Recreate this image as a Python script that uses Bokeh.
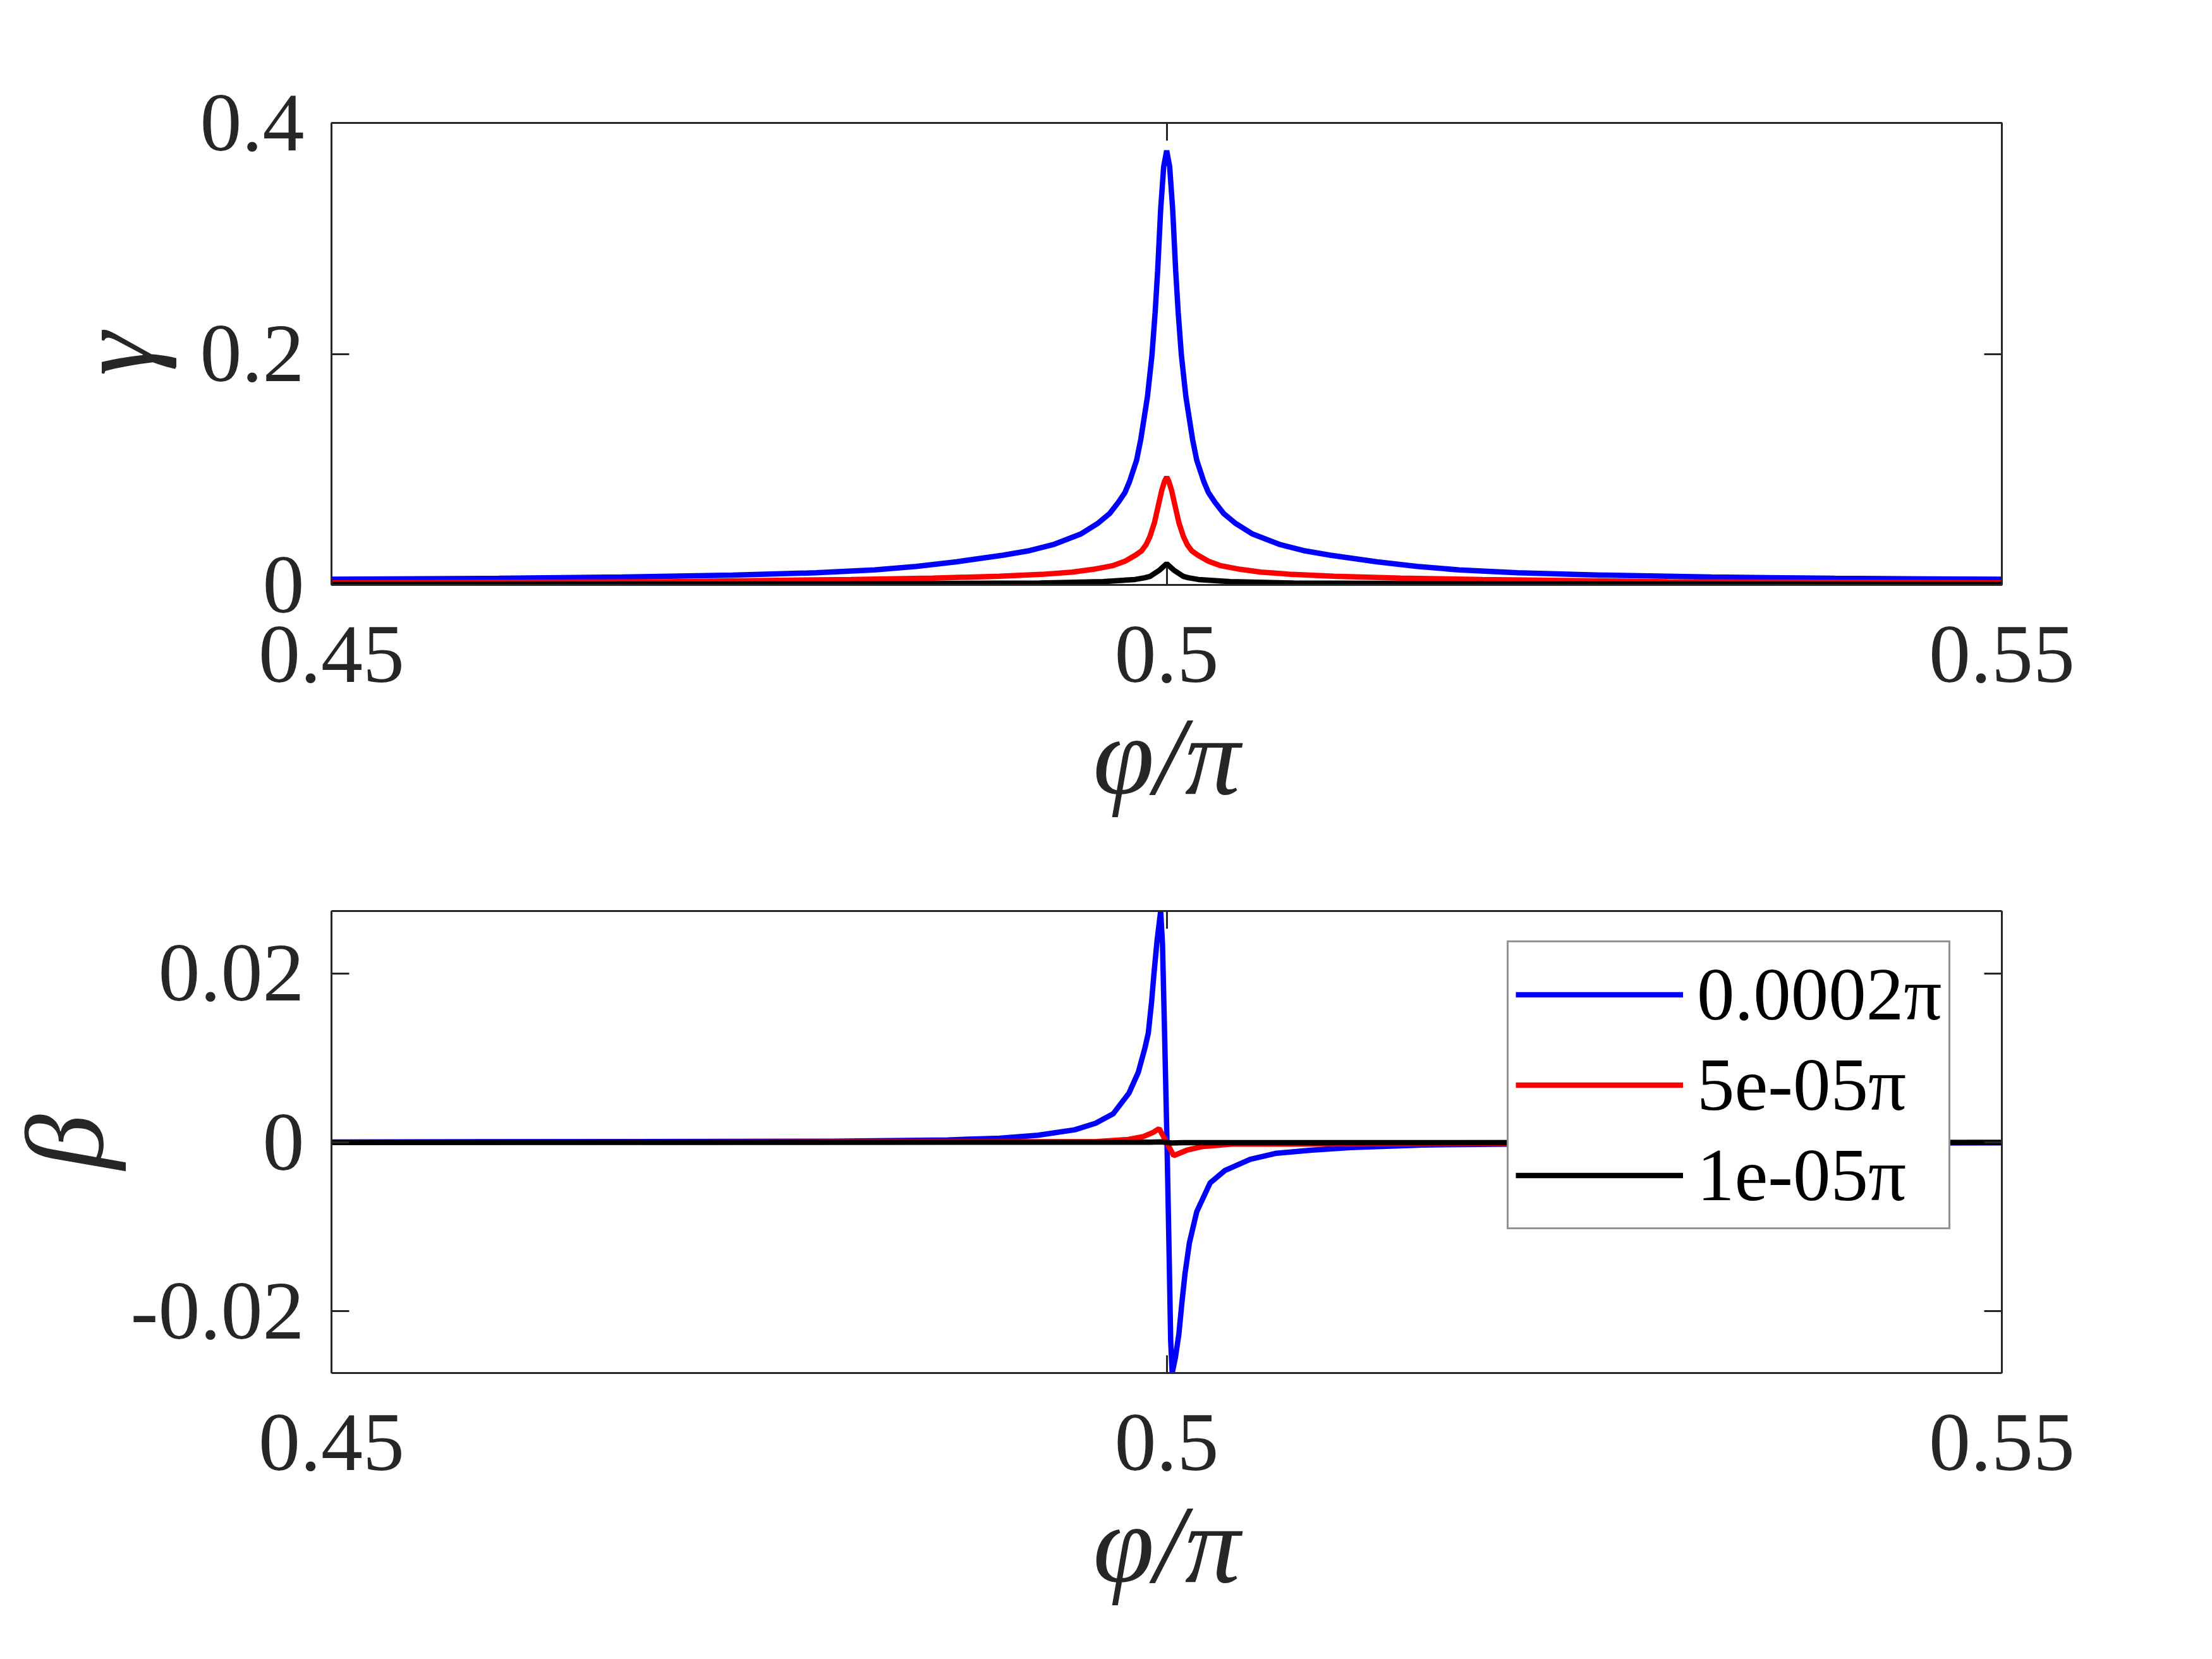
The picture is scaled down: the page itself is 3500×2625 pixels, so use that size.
from bokeh.plotting import figure
from bokeh.models import Range1d, FixedTicker, LinearAxis, Legend, LegendItem
from bokeh.layouts import column
from bokeh.embed import file_html
from bokeh.resources import INLINE

# ---------------- data ----------------
x_ticks = [0.45, 0.5, 0.55]
x_tick_labels = ["0.45", "0.5", "0.55"]
gamma_ticks = [0.0, 0.2, 0.4]
gamma_tick_labels = ["0", "0.2", "0.4"]
beta_ticks = [-0.02, 0.0, 0.02]
beta_tick_labels = ["-0.02", "0", "0.02"]

series_names = ["0.0002\u03c0", "5e-05\u03c0", "1e-05\u03c0"]
series_colors = ["#0000ff", "#ff0000", "#000000"]

# gamma, 0.0002 pi
phi_gamma_blue = [0.45, 0.46, 0.4674, 0.474, 0.479, 0.4825, 0.485, 0.4874, 0.4902, 0.4918,
                  0.49321, 0.49485, 0.49586, 0.4966, 0.4971, 0.4975, 0.49778, 0.4982, 0.49845,
                  0.49885, 0.49912, 0.49931, 0.49946, 0.49964, 0.49982,
                  0.5,
                  0.50018, 0.50036, 0.50054, 0.50069, 0.50088, 0.50115, 0.50155, 0.5018,
                  0.50222, 0.5025, 0.5029, 0.5034, 0.50414, 0.50515, 0.50679, 0.5082, 0.5098,
                  0.5126, 0.515, 0.5175, 0.521, 0.526, 0.5326, 0.54, 0.55]
gamma_blue = [0.0049, 0.0057, 0.0068, 0.0085, 0.0105, 0.0130, 0.0160, 0.0200, 0.0257, 0.0297,
              0.0349, 0.044, 0.0531, 0.0620, 0.0714, 0.0800, 0.0896, 0.108, 0.126,
              0.163, 0.199, 0.236, 0.272, 0.325, 0.362,
              0.376,
              0.362, 0.325, 0.272, 0.236, 0.199, 0.163, 0.126, 0.108,
              0.0896, 0.0800, 0.0714, 0.0620, 0.0531, 0.044, 0.0349, 0.0297, 0.0257,
              0.0200, 0.0160, 0.0130, 0.0105, 0.0085, 0.0068, 0.0057, 0.0049]

# gamma, 5e-05 pi
phi_gamma_red = [0.45, 0.47, 0.4811, 0.486, 0.49, 0.4925, 0.49435, 0.4956, 0.49675, 0.4975,
                 0.49813, 0.4985, 0.49877, 0.499, 0.49927, 0.49952, 0.4997, 0.49987,
                 0.5,
                 0.50013, 0.5003, 0.50048, 0.50073, 0.501, 0.50123, 0.5015, 0.50187, 0.5025,
                 0.50325, 0.5044, 0.50565, 0.5075, 0.51, 0.514, 0.5189, 0.53, 0.55]
gamma_red = [0.0018, 0.0028, 0.0047, 0.0059, 0.0075, 0.0091, 0.0111, 0.0135, 0.0166, 0.0205,
             0.0257, 0.0295, 0.0349, 0.0420, 0.0540, 0.0700, 0.0815, 0.0896,
             0.0933,
             0.0896, 0.0815, 0.0700, 0.0540, 0.0420, 0.0349, 0.0295, 0.0257, 0.0205,
             0.0166, 0.0135, 0.0111, 0.0091, 0.0075, 0.0059, 0.0047, 0.0028, 0.0018]

# gamma, 1e-05 pi
phi_gamma_black = [0.45, 0.481, 0.4924, 0.4962, 0.4981, 0.4987, 0.49902, 0.49958, 0.5, 0.50042,
                   0.50098, 0.5013, 0.5019, 0.5038, 0.5076, 0.519, 0.55]
gamma_black = [0.0004, 0.0009, 0.0016, 0.0029, 0.0047, 0.0062, 0.0075, 0.0129, 0.0184, 0.0129,
               0.0075, 0.0062, 0.0047, 0.0029, 0.0016, 0.0009, 0.0004]

# beta, 0.0002 pi
phi_beta_blue = [0.45, 0.48, 0.4869, 0.49, 0.4923, 0.4945, 0.49575, 0.4968, 0.49774, 0.4983,
                 0.4987, 0.4989, 0.4991, 0.49924, 0.49942, 0.49964, 0.49975, 0.49988, 0.50002,
                 0.50014, 0.50024, 0.50033, 0.50052, 0.50073, 0.50091, 0.5011, 0.50136, 0.5018,
                 0.5026, 0.5035, 0.505, 0.5065, 0.5086, 0.511, 0.5153, 0.525, 0.55]
beta_blue = [0.00005, 0.00015, 0.0003, 0.0005, 0.00085, 0.0015, 0.00228, 0.0034, 0.00583, 0.0083,
             0.0112, 0.01294, 0.0167, 0.0200, 0.0238, 0.0274, 0.0235, 0.0125, 0.0,
             -0.0125, -0.0235, -0.0273, -0.0255, -0.0227, -0.019, -0.0155, -0.0119, -0.0082,
             -0.0048, -0.0033, -0.002, -0.0013, -0.00092, -0.0006, -0.0003, -0.00012, -0.00005]

# beta, 5e-05 pi
phi_beta_red = [0.45, 0.4958, 0.4977, 0.4986, 0.4992, 0.49955, 0.5, 0.50042, 0.5012, 0.5021,
                0.5039, 0.55]
beta_red = [0.0, 0.0001, 0.00035, 0.0007, 0.0012, 0.00164, 0.0, -0.00156, -0.00092, -0.0005,
            -0.0002, 0.0]

# beta, 1e-05 pi
phi_beta_black = [0.45, 0.499, 0.4997, 0.5, 0.5003, 0.501, 0.55]
beta_black = [0.0, 0.00003, 0.00006, 0.0, -0.00006, -0.00003, 0.0]

x_label = "\u03c6/\u03c0"
gamma_label = "\u03b3"
beta_label = "\u03b2"

# ---------------- styling ----------------
FONT = "Liberation Serif"
AX = "#262626"
TICK_FS = "132px"
LABEL_FS = "175px"
LEGEND_FS = "119px"
LW = 8.5

TOTAL_W = 3484
FRAME_L = 524
FRAME_W = 2643
FRAME_H = 731
TOP_H = 1380
TOTAL_H = 2609


def style_axis(ax, ticks, labels, show):
    ax.ticker = FixedTicker(ticks=ticks)
    ax.axis_line_color = AX
    ax.axis_line_width = 3
    ax.major_tick_line_color = AX
    ax.major_tick_line_width = 3
    ax.major_tick_in = 28
    ax.major_tick_out = 0
    ax.minor_tick_line_color = None
    if show:
        ax.major_label_overrides = {t: l for t, l in zip(ticks, labels)}
        ax.major_label_text_font = FONT
        ax.major_label_text_font_size = TICK_FS
        ax.major_label_text_color = AX
        ax.axis_label_text_font = FONT
        ax.axis_label_text_font_size = LABEL_FS
        ax.axis_label_text_font_style = "italic"
        ax.axis_label_text_color = AX
    else:
        ax.major_label_overrides = {t: "" for t in ticks}
        ax.major_label_text_font_size = "1px"
        ax.major_label_standoff = 0


def make_fig(y_lo, y_hi, top, bottom):
    p = figure(output_backend="svg", toolbar_location=None,
               x_range=Range1d(0.45, 0.55), y_range=Range1d(y_lo, y_hi),
               frame_width=FRAME_W, frame_height=FRAME_H,
               min_border_left=FRAME_L, min_border_right=TOTAL_W - FRAME_L - FRAME_W,
               min_border_top=top, min_border_bottom=bottom,
               background_fill_color="white", border_fill_color="white",
               outline_line_color=None)
    p.xgrid.visible = False
    p.ygrid.visible = False
    p.add_layout(LinearAxis(), "above")
    p.add_layout(LinearAxis(), "right")
    return p


# top panel: gamma
top1 = 194
p1 = make_fig(0.0, 0.4, top1, TOP_H - top1 - FRAME_H)
style_axis(p1.below[0], x_ticks, x_tick_labels, True)
style_axis(p1.above[0], x_ticks, x_tick_labels, False)
style_axis(p1.left[0], gamma_ticks, gamma_tick_labels, True)
style_axis(p1.right[0], gamma_ticks, gamma_tick_labels, False)
p1.below[0].axis_label = x_label
p1.left[0].axis_label = gamma_label
p1.below[0].major_label_standoff = 67
p1.below[0].axis_label_standoff = 18
p1.left[0].major_label_standoff = 43
p1.left[0].axis_label_standoff = 34

p1.line(phi_gamma_blue, gamma_blue, line_color=series_colors[0], line_width=LW)
p1.line(phi_gamma_red, gamma_red, line_color=series_colors[1], line_width=LW)
p1.line(phi_gamma_black, gamma_black, line_color=series_colors[2], line_width=LW)

# bottom panel: beta
top2 = 61
p2 = make_fig(-0.0273, 0.0274, top2, TOTAL_H - TOP_H - top2 - FRAME_H)
style_axis(p2.below[0], x_ticks, x_tick_labels, True)
style_axis(p2.above[0], x_ticks, x_tick_labels, False)
style_axis(p2.left[0], beta_ticks, beta_tick_labels, True)
style_axis(p2.right[0], beta_ticks, beta_tick_labels, False)
p2.below[0].axis_label = x_label
p2.left[0].axis_label = beta_label
p2.below[0].major_label_standoff = 67
p2.below[0].axis_label_standoff = 18
p2.left[0].major_label_standoff = 43
p2.left[0].axis_label_standoff = 4

rb = p2.line(phi_beta_blue, beta_blue, line_color=series_colors[0], line_width=LW)
rr = p2.line(phi_beta_red, beta_red, line_color=series_colors[1], line_width=LW)
rk = p2.line(phi_beta_black, beta_black, line_color=series_colors[2], line_width=LW)

legend = Legend(items=[LegendItem(label=series_names[0], renderers=[rb]),
                       LegendItem(label=series_names[1], renderers=[rr]),
                       LegendItem(label=series_names[2], renderers=[rk])],
                location=(1860, 227))
legend.border_line_color = AX
legend.border_line_width = 3
legend.background_fill_color = "white"
legend.background_fill_alpha = 1.0
legend.padding = 11
legend.spacing = 0
legend.margin = 0
legend.glyph_width = 265
legend.glyph_height = 143
legend.label_height = 143
legend.label_standoff = 22
legend.label_text_font = FONT
legend.label_text_font_size = LEGEND_FS
legend.label_text_color = "#000000"
p2.add_layout(legend)

layout = column(p1, p2, spacing=0)
open("out.html", "w").write(file_html(layout, INLINE))
